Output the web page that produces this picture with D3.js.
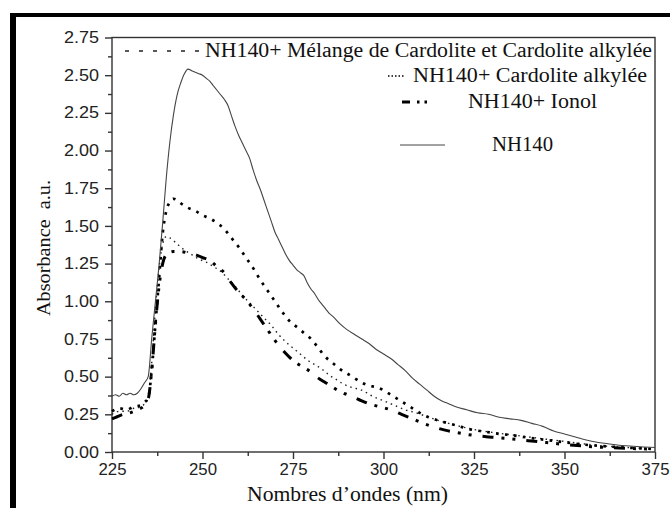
<!DOCTYPE html>
<html>
<head>
<meta charset="utf-8">
<script src="https://cdn.jsdelivr.net/npm/d3@7"></script>
<style>
  body { margin: 0; background: #fff; }
  svg { display: block; }
  .tick text { font-family: "Liberation Sans", Arial, sans-serif; font-size: 16px; fill: #222; }
</style>
</head>
<body>
<script>
// axis ticks
var xTicks = [225, 250, 275, 300, 325, 350, 375];
var xMinor = [237.5, 262.5, 287.5, 312.5, 337.5, 362.5];
var yTicks = [0, 0.25, 0.5, 0.75, 1, 1.25, 1.5, 1.75, 2, 2.25, 2.5, 2.75];
var yMinor = [0.125, 0.375, 0.625, 0.875, 1.125, 1.375, 1.625, 1.875, 2.125, 2.375, 2.625];

var seriesNames = ["NH140+ Mélange de Cardolite et Cardolite alkylée",
                   "NH140+ Cardolite alkylée",
                   "NH140+ Ionol",
                   "NH140"];

// [wavelength nm, absorbance]
var nh140 = [[225,0.37],[226,0.38],[227,0.37],[228,0.39],[229,0.38],[230,0.39],[231,0.38],[232,0.39],
  [233,0.42],[234,0.46],[235,0.50],[236,0.76],[237,1.00],[238,1.24],[239,1.52],[240,1.82],[241,2.06],
  [242,2.24],[243,2.37],[244,2.45],[245,2.51],[246,2.54],[247,2.53],[248,2.52],[249,2.51],[250,2.50],
  [251,2.48],[252,2.46],[253,2.43],[254,2.40],[255,2.37],[256,2.34],[257,2.30],[258,2.23],[259,2.16],
  [260,2.10],[261,2.05],[262,2.00],[263,1.95],[264,1.87],[265,1.80],[266,1.74],[267,1.67],[268,1.60],
  [269,1.53],[270,1.46],[271,1.41],[272,1.36],[273,1.31],[274,1.27],[275,1.24],[276,1.21],[277,1.19],
  [278,1.17],[279,1.12],[280,1.08],[281,1.05],[282,1.01],[283,0.98],[284,0.95],[285,0.92],[286,0.90],
  [288,0.85],[290,0.81],[292,0.78],[294,0.75],[296,0.72],[298,0.68],[300,0.65],[302,0.62],[304,0.58],
  [306,0.54],[308,0.49],[310,0.45],[312,0.41],[314,0.37],[316,0.34],[318,0.32],[320,0.30],[323,0.28],
  [326,0.26],[329,0.25],[332,0.23],[335,0.22],[338,0.21],[341,0.19],[344,0.17],[347,0.14],[350,0.12],
  [353,0.10],[356,0.08],[359,0.065],[362,0.055],[365,0.045],[368,0.04],[371,0.035],[375,0.03]];

var cardoliteAlk = [[225,0.27],[227,0.29],[229,0.28],[231,0.30],[233,0.31],[234,0.33],[235,0.36],
  [236,0.55],[237,0.85],[238,1.15],[239,1.45],[240,1.60],[241,1.66],[242,1.68],[243,1.67],[244,1.65],
  [246,1.62],[248,1.60],[250,1.57],[252,1.55],[254,1.52],[256,1.48],[258,1.42],[260,1.36],[262,1.29],
  [264,1.22],[266,1.14],[268,1.07],[270,1.00],[272,0.93],[274,0.87],[276,0.83],[278,0.79],[280,0.75],
  [282,0.69],[284,0.63],[286,0.59],[288,0.55],[290,0.52],[292,0.49],[294,0.46],[296,0.44],[298,0.43],
  [300,0.41],[302,0.38],[304,0.35],[306,0.32],[308,0.29],[310,0.26],[312,0.235],[315,0.21],[318,0.19],
  [321,0.17],[324,0.15],[328,0.135],[332,0.12],[336,0.11],[340,0.095],[345,0.08],[350,0.065],
  [355,0.05],[360,0.04],[365,0.032],[370,0.025],[375,0.02]];

var ionol = [[225,0.22],[226,0.23],[228,0.25],[230,0.26],[232,0.28],[234,0.31],[235,0.35],[236,0.55],
  [237,0.85],[238,1.10],[239,1.25],[240,1.31],[242,1.33],[244,1.33],[246,1.32],[248,1.31],[250,1.29],
  [252,1.27],[254,1.23],[256,1.19],[258,1.12],[260,1.06],[262,1.01],[264,0.95],[266,0.88],[268,0.81],
  [270,0.74],[272,0.68],[274,0.63],[276,0.59],[278,0.56],[280,0.53],[282,0.49],[284,0.46],[286,0.43],
  [288,0.40],[290,0.38],[293,0.35],[296,0.32],[299,0.30],[302,0.28],[305,0.25],[308,0.22],[311,0.19],
  [314,0.165],[317,0.145],[320,0.13],[325,0.11],[330,0.098],[335,0.088],[340,0.075],[345,0.063],
  [350,0.05],[355,0.04],[360,0.032],[365,0.026],[370,0.022],[375,0.02]];

var melange = [[225,0.25],[227,0.27],[229,0.27],[231,0.29],[233,0.30],[234,0.32],[235,0.36],[236,0.60],
  [237,0.95],[238,1.22],[239,1.38],[240,1.43],[241,1.42],[243,1.38],[245,1.34],[247,1.31],[249,1.28],
  [251,1.26],[253,1.23],[255,1.20],[257,1.15],[259,1.10],[261,1.04],[263,0.99],[265,0.94],[267,0.89],
  [269,0.84],[271,0.78],[273,0.73],[275,0.69],[277,0.65],[279,0.61],[281,0.58],[283,0.55],[285,0.51],
  [287,0.48],[289,0.45],[291,0.43],[294,0.41],[297,0.37],[300,0.34],[303,0.31],[306,0.28],[309,0.26],
  [312,0.235],[315,0.21],[318,0.19],[322,0.165],[326,0.145],[330,0.13],[335,0.115],[340,0.10],
  [345,0.085],[350,0.07],[355,0.055],[360,0.042],[365,0.033],[370,0.026],[375,0.02]];

var W = 670, H = 508;
var plot = { left: 112, right: 655, top: 37.5, bottom: 452 };
var serifFont = "'Liberation Serif', 'Times New Roman', serif";

var svg = d3.select("body").append("svg").attr("width", W).attr("height", H);

// thick outer border (only top and left are in the picture)
svg.append("rect").attr("x", 10).attr("y", 13).attr("width", W - 10).attr("height", 4).attr("fill", "#000");
svg.append("rect").attr("x", 10).attr("y", 13).attr("width", 6).attr("height", H - 13).attr("fill", "#000");

var x = d3.scaleLinear().domain([225, 375]).range([plot.left, plot.right]);
var y = d3.scaleLinear().domain([0, 2.75]).range([plot.bottom, plot.top]);

// axes
var xAxis = svg.append("g").attr("transform", "translate(0," + plot.bottom + ")")
  .call(d3.axisBottom(x).tickValues(xTicks).tickFormat(d3.format("d")).tickSize(7).tickPadding(5));
var xAxisMinor = svg.append("g").attr("transform", "translate(0," + plot.bottom + ")")
  .call(d3.axisBottom(x).tickValues(xMinor).tickFormat("").tickSize(4));
var yAxis = svg.append("g").attr("transform", "translate(" + plot.left + ",0)")
  .call(d3.axisLeft(y).tickValues(yTicks).tickFormat(d3.format(".2f")).tickSize(7).tickPadding(6));
var yAxisMinor = svg.append("g").attr("transform", "translate(" + plot.left + ",0)")
  .call(d3.axisLeft(y).tickValues(yMinor).tickFormat("").tickSize(4));

// the scan draws the digits a little wider than Arial
xAxis.selectAll(".tick text").attr("textLength", 28).attr("lengthAdjust", "spacingAndGlyphs");
yAxis.selectAll(".tick text").attr("textLength", 35).attr("lengthAdjust", "spacingAndGlyphs");

svg.selectAll(".domain").remove();
svg.selectAll(".tick line").attr("stroke", "#333").attr("stroke-width", 1.4);

svg.append("rect")
  .attr("x", plot.left).attr("y", plot.top)
  .attr("width", plot.right - plot.left).attr("height", plot.bottom - plot.top)
  .attr("fill", "none").attr("stroke", "#333").attr("stroke-width", 1.4);

// curves
var line = d3.line()
  .x(function(d) { return x(d[0]); })
  .y(function(d) { return y(d[1]); })
  .curve(d3.curveMonotoneX);

var styles = [
  { data: melange, width: 1.4, dash: "1.5,4", color: "#222", legendDash: "4,10" },
  { data: cardoliteAlk, width: 2.7, dash: "2.7,6.3", color: "#000", legendDash: "1.5,2" },
  { data: ionol, width: 3, dash: "11,8,3,8,3,11", color: "#000", legendDash: "8,7,2.5,5,2.5,20" },
  { data: nh140, width: 1.1, dash: null, color: "#444", legendDash: null }
];

svg.selectAll(".curve").data(styles).enter().append("path")
  .attr("class", "curve")
  .attr("d", function(d) { return line(d.data); })
  .attr("fill", "none")
  .attr("stroke", function(d) { return d.color; })
  .attr("stroke-width", function(d) { return d.width; })
  .attr("stroke-dasharray", function(d) { return d.dash; });

// legend
var legendPos = [
  { x1: 125, x2: 200, ly: 51, tx: 205, ty: 56.5, sw: 1.3, len: 447 },
  { x1: 388, x2: 404, ly: 76, tx: 413, ty: 81.5, sw: 1.5, len: 234 },
  { x1: 402, x2: 443, ly: 102, tx: 468, ty: 108, sw: 3, len: 129 },
  { x1: 400, x2: 445, ly: 145, tx: 492, ty: 151, sw: 1, len: 61 }
];

var legend = svg.selectAll(".legend").data(seriesNames).enter().append("g").attr("class", "legend");
legend.append("line")
  .attr("x1", function(d, i) { return legendPos[i].x1; })
  .attr("x2", function(d, i) { return legendPos[i].x2; })
  .attr("y1", function(d, i) { return legendPos[i].ly; })
  .attr("y2", function(d, i) { return legendPos[i].ly; })
  .attr("stroke", function(d, i) { return styles[i].color; })
  .attr("stroke-width", function(d, i) { return legendPos[i].sw; })
  .attr("stroke-dasharray", function(d, i) { return styles[i].legendDash; });
legend.append("text")
  .style("font-family", serifFont)
  .style("font-size", "20px")
  .attr("fill", "#111")
  .attr("x", function(d, i) { return legendPos[i].tx; })
  .attr("y", function(d, i) { return legendPos[i].ty; })
  .attr("textLength", function(d, i) { return legendPos[i].len; })
  .attr("lengthAdjust", "spacingAndGlyphs")
  .text(function(d) { return d; });

// axis titles
svg.append("text")
  .style("font-family", serifFont).style("font-size", "21px").attr("fill", "#111")
  .attr("x", 247).attr("y", 501)
  .attr("textLength", 201).attr("lengthAdjust", "spacingAndGlyphs")
  .text("Nombres d’ondes (nm)");

svg.append("text")
  .style("font-family", serifFont).style("font-size", "19px").attr("fill", "#111")
  .attr("transform", "translate(50,316)rotate(-90)")
  .attr("xml:space", "preserve")
  .attr("textLength", 136).attr("lengthAdjust", "spacingAndGlyphs")
  .text("Absorbance  a.u.");
</script>
</body>
</html>
